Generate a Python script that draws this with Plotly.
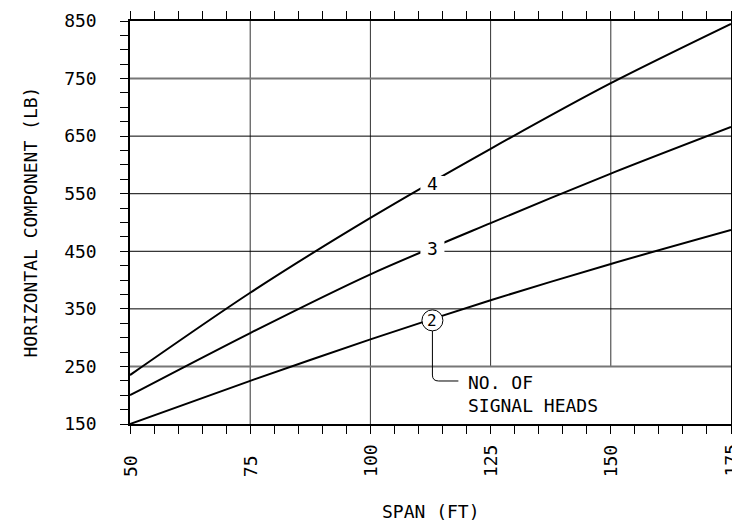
import plotly.graph_objects as go

# Horizontal component of span-wire tension vs. span length
span_ft = [50, 75, 100, 125, 150, 175]
heads_2 = [150, 225, 297, 365, 428, 487]
heads_3 = [200, 308, 410, 499, 585, 666]
heads_4 = [235, 378, 508, 628, 742, 845]

x_ticks = [50, 75, 100, 125, 150, 175]
y_ticks = [150, 250, 350, 450, 550, 650, 750, 850]

FONT = "DejaVu Sans Mono"
fs = 18

fig = go.Figure()
for vals in (heads_2, heads_3, heads_4):
    fig.add_trace(go.Scatter(
        x=span_ft, y=vals, mode="lines",
        line=dict(color="black", width=2, shape="spline", smoothing=0.8),
        showlegend=False, hoverinfo="skip",
    ))

shapes = []
# vertical grid: the two right-hand lines stop at 250 to leave room for the note
for gx, y_from in [(75, 150), (100, 150), (125, 250), (150, 250)]:
    shapes.append(dict(type="line", xref="x", yref="y", x0=gx, x1=gx, y0=y_from, y1=850,
                       line=dict(color="#333333", width=1), layer="below"))
# horizontal grid
for gy in y_ticks[1:-1]:
    heavy = gy in (250, 750)
    shapes.append(dict(type="line", xref="x", yref="y", x0=50, x1=175, y0=gy, y1=gy,
                       line=dict(color="#777777" if heavy else "black", width=2 if heavy else 1),
                       layer="below"))

def gap(x, y, w=24, h=15):
    return dict(type="rect", xref="x", yref="y", xsizemode="pixel", ysizemode="pixel",
                xanchor=x, yanchor=y, x0=-w / 2, x1=w / 2, y0=-h / 2, y1=h / 2,
                fillcolor="white", line=dict(width=0), layer="above")

lbl_x = 112.9
shapes.append(gap(lbl_x, 568.6, h=14))
shapes.append(gap(lbl_x, 455.7, h=16))
# circled "2" with leader line to the note
shapes.append(dict(type="circle", xref="x", yref="y", xsizemode="pixel", ysizemode="pixel",
                   xanchor=lbl_x, yanchor=330, x0=-10.5, x1=10.5, y0=-10.5, y1=10.5,
                   fillcolor="white", line=dict(color="black", width=1), layer="above"))
shapes.append(dict(type="path", xref="x", yref="y",
                   path=f"M {lbl_x},311.5 L {lbl_x},235 Q {lbl_x},224.7 {lbl_x + 1.3},224.7 L 118.3,224.7",
                   line=dict(color="black", width=1), layer="above"))

annotations = [
    dict(x=lbl_x, y=568.6, text="4", showarrow=False, font=dict(family=FONT, size=fs, color="black")),
    dict(x=lbl_x, y=455.7, text="3", showarrow=False, font=dict(family=FONT, size=fs, color="black")),
    dict(x=lbl_x, y=330, text="2", showarrow=False, font=dict(family=FONT, size=16, color="black")),
    dict(x=119.8, y=202, text="NO. OF<br>SIGNAL HEADS", showarrow=False, align="left",
         xanchor="left", yanchor="middle", font=dict(family=FONT, size=fs, color="black")),
    dict(xref="paper", yref="paper", x=0.5, y=0, yshift=-87, text="SPAN (FT)", showarrow=False,
         yanchor="middle", font=dict(family=FONT, size=fs, color="black")),
    dict(xref="paper", yref="paper", x=0, y=0.5, xshift=-100, text="HORIZONTAL COMPONENT (LB)",
         textangle=-90, showarrow=False, xanchor="center", yanchor="middle",
         font=dict(family=FONT, size=fs, color="black")),
]
for t in x_ticks:
    annotations.append(dict(x=t, xref="x", yref="paper", y=0, yshift=-55, text=str(t),
                            textangle=-90, showarrow=False, xanchor="center", yanchor="bottom",
                            font=dict(family=FONT, size=fs, color="black")))

fig.update_layout(
    width=732, height=523,
    margin=dict(l=130, r=1, t=21, b=99, autoexpand=False),
    paper_bgcolor="white", plot_bgcolor="white",
    shapes=shapes, annotations=annotations,
    xaxis=dict(range=[50, 175], tickvals=x_ticks, ticks="outside", ticklen=8, tickcolor="black",
               tickwidth=1, showticklabels=False, showgrid=False, zeroline=False, automargin=False,
               showline=True, linecolor="black", linewidth=1.5, mirror="ticks",
               minor=dict(dtick=5, tick0=50, ticks="outside", ticklen=8, tickcolor="black",
                          tickwidth=1, showgrid=False)),
    yaxis=dict(range=[150, 850], tickvals=y_ticks, ticks="outside", ticklen=8, tickcolor="black",
               tickwidth=1, showgrid=False, zeroline=False, ticklabelstandoff=20, automargin=False,
               tickfont=dict(family=FONT, size=fs, color="black"),
               showline=True, linecolor="black", linewidth=1.5, mirror="ticks",
               minor=dict(dtick=25, tick0=150, ticks="outside", ticklen=8, tickcolor="black",
                          tickwidth=1, showgrid=False)),
)

fig.write_html("out.html")
